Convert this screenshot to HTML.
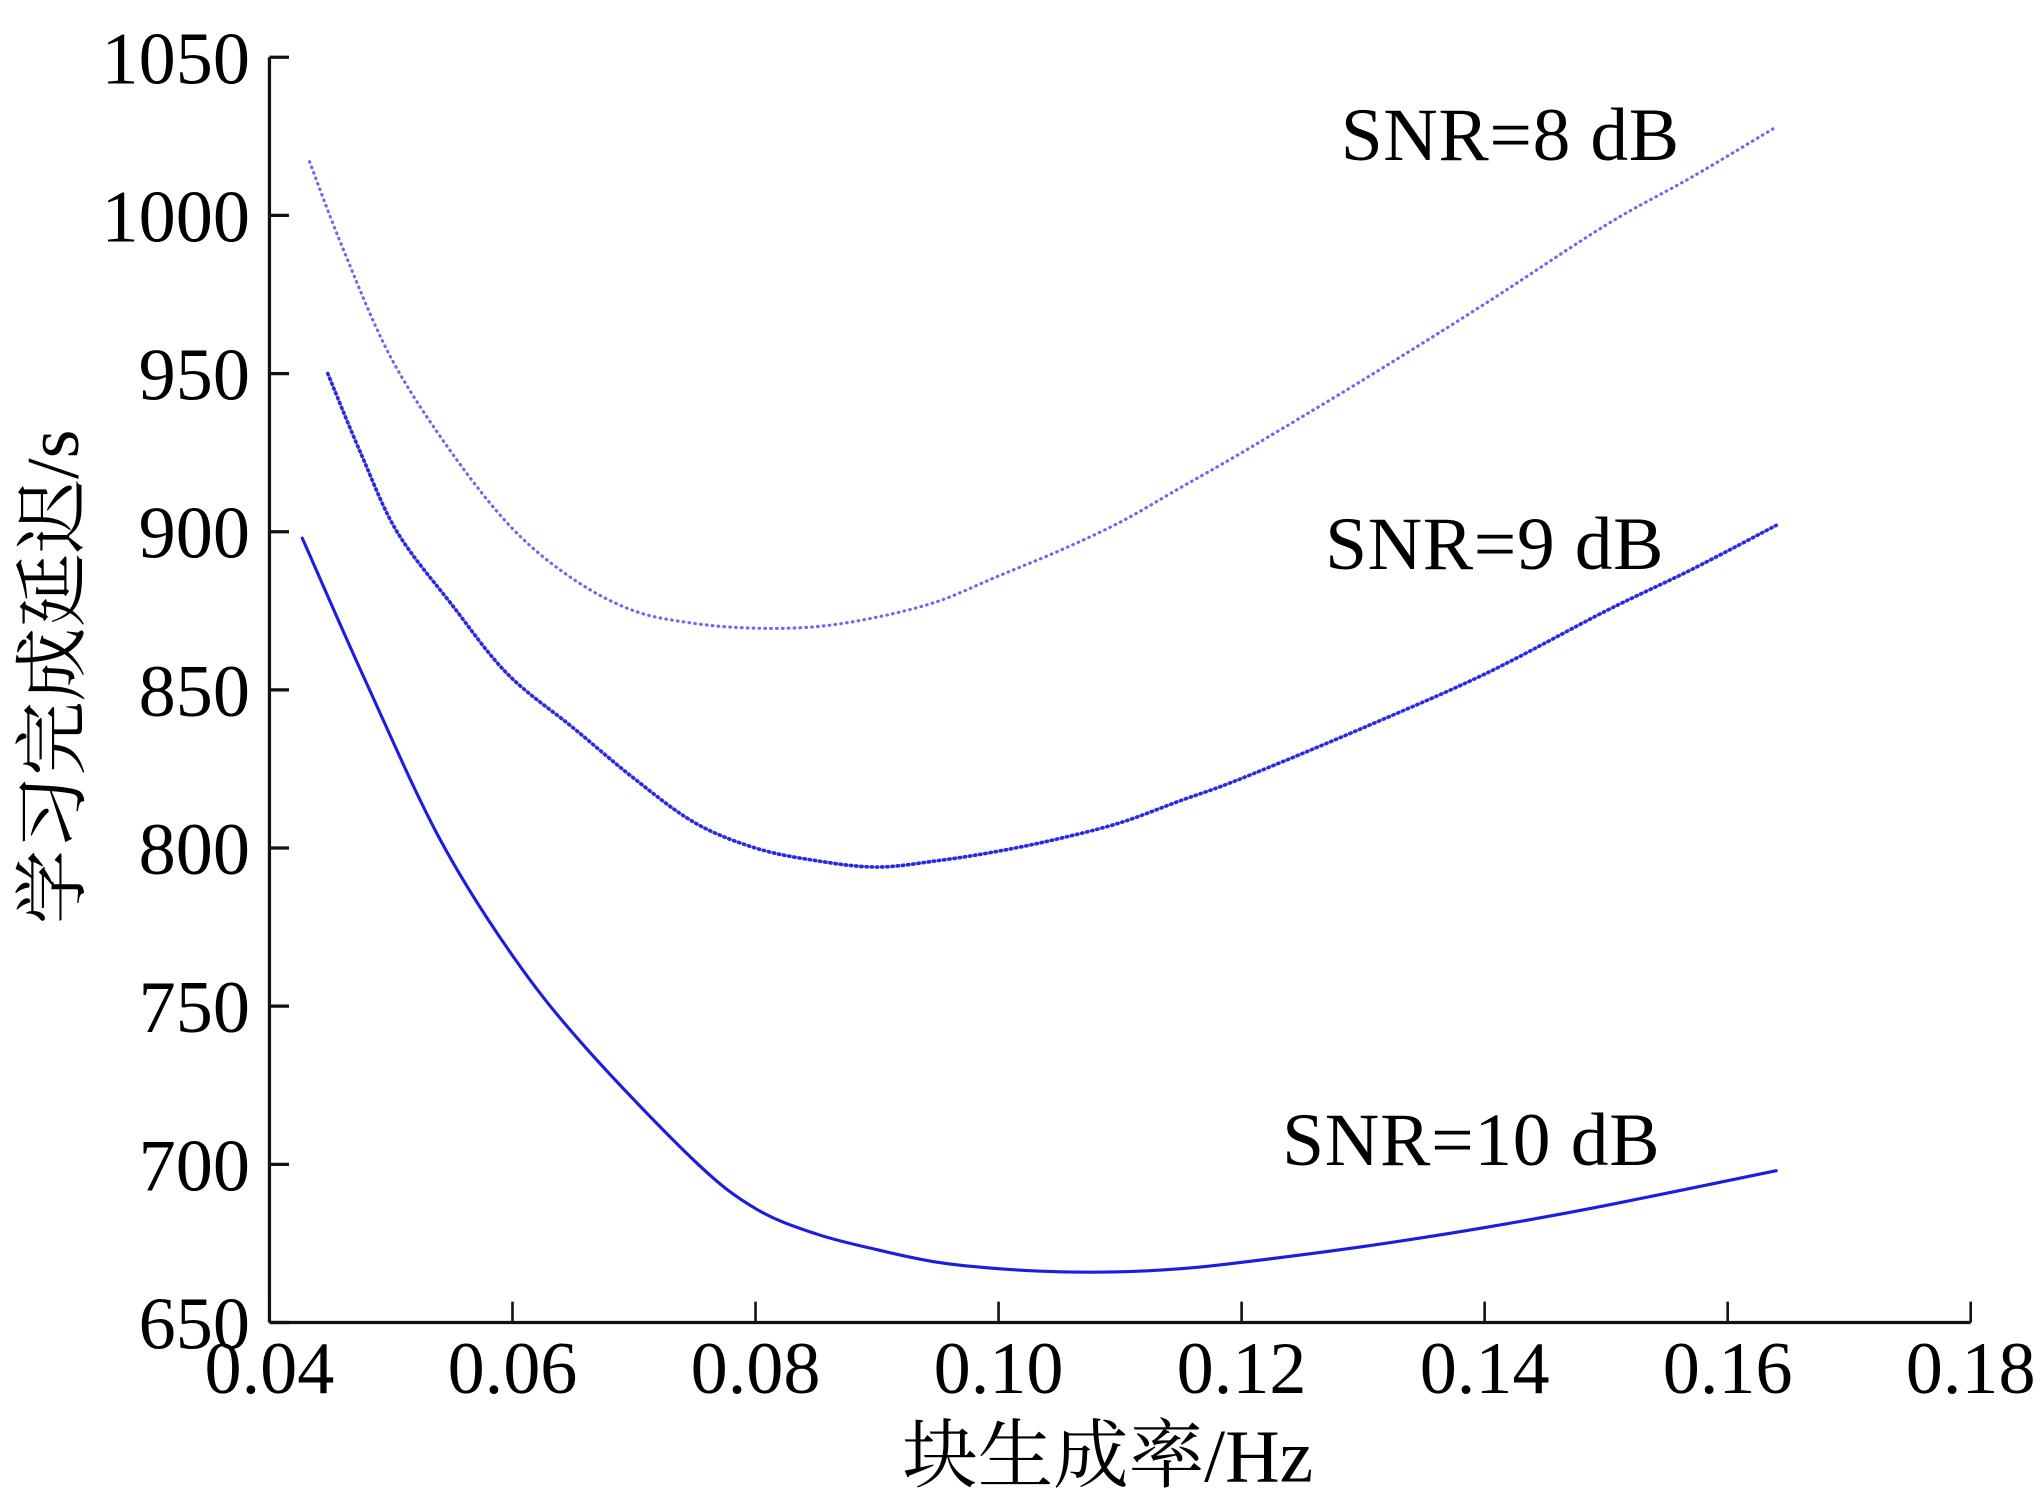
<!DOCTYPE html>
<html><head><meta charset="utf-8"><style>
html,body{margin:0;padding:0;background:#fff;}
svg{display:block;}
text{font-family:"Liberation Serif","Noto Serif CJK SC","Noto Sans CJK SC",serif;fill:#000;}
</style></head><body>
<svg id="chart" width="2041" height="1506" viewBox="0 0 1568 1157" preserveAspectRatio="none" xmlns="http://www.w3.org/2000/svg">
<g id="axes"></g>
<g id="series"></g>
<text x="851" y="1138" font-size="58" text-anchor="middle">块生成率/Hz</text>
<text transform="translate(60,520) rotate(-90)" font-size="57" text-anchor="middle">学习完成延迟/s</text>
<text x="1030" y="123" font-size="58" textLength="260">SNR=8 dB</text>
<text x="1018" y="437" font-size="58" textLength="260">SNR=9 dB</text>
<text x="985" y="895" font-size="58" textLength="290">SNR=10 dB</text>
</svg>
<script>
const xTicks=[0.04,0.06,0.08,0.10,0.12,0.14,0.16,0.18];
const xTickLabels=["0.04","0.06","0.08","0.10","0.12","0.14","0.16","0.18"];
const yTicks=[650,700,750,800,850,900,950,1000,1050];
const snr8X=[0.0433,0.046,0.050,0.055,0.060,0.065,0.070,0.075,0.080,0.085,0.090,0.095,0.100,0.105,0.110,0.115,0.120,0.130,0.140,0.150,0.157,0.164];
const snr8Y=[1017,990,955,925,901,885,875,871,869.5,870,873,878,886,894,903,914,925,948,972,997,1012,1028];
const snr9X=[0.0448,0.0475,0.0505,0.055,0.0596,0.065,0.070,0.075,0.080,0.085,0.090,0.095,0.100,0.105,0.110,0.115,0.120,0.130,0.140,0.150,0.157,0.164];
const snr9Y=[950,925,900,877,855,838,822,808,800,796,794,796,799,803,808,815,822,838,855,875,888,902];
const snr10X=[0.0427,0.048,0.054,0.060,0.066,0.075,0.080,0.085,0.090,0.095,0.100,0.105,0.110,0.115,0.120,0.130,0.140,0.150,0.164];
const snr10Y=[898,852,803,766,737,701,686,678,673,669,667,666,666,667,669,674,680,687,698];

const NS="http://www.w3.org/2000/svg";
const X0=207,X1=1514,Y0=1016,Y1=44;
function sx(v){return X0+(v-0.04)/(0.18-0.04)*(X1-X0);}
function sy(v){return Y0-(v-650)/(1050-650)*(Y0-Y1);}
function mk(tag,attrs,parent){const e=document.createElementNS(NS,tag);for(const k in attrs)e.setAttribute(k,attrs[k]);parent.appendChild(e);return e;}
const axes=document.getElementById('axes');
let l=mk('line',{x1:X0,y1:Y1,x2:X0,y2:Y0,stroke:'#111','stroke-width':2.5},axes);


l=mk('line',{x1:X0,y1:Y0,x2:X1,y2:Y0,stroke:'#111','stroke-width':2.5},axes);


yTicks.forEach(v=>{
  const t=mk('line',{x1:X0,y1:sy(v),x2:X0+15,y2:sy(v),stroke:'#111','stroke-width':2.5},axes);
  
  
  const s=String(v);
  const tx=mk('text',{x:192,y:sy(v)+20,'font-size':57,'text-anchor':'end',textLength:s.length*28.5},axes);
  tx.textContent=s;
  
  
});
xTicks.forEach((v,i)=>{
  const t=mk('line',{x1:sx(v),y1:Y0,x2:sx(v),y2:Y0-16,stroke:'#111','stroke-width':2},axes);
  
  
  const tx=mk('text',{x:sx(v),y:1070,'font-size':57,'text-anchor':'middle'},axes);
  tx.textContent=xTickLabels[i];
  
  
});
const series=document.getElementById('series');
function smoothPath(P){
  let d='M'+P[0][0].toFixed(1)+','+P[0][1].toFixed(1);
  for(let i=0;i<P.length-1;i++){
    const p0=P[i-1]||P[i],p1=P[i],p2=P[i+1],p3=P[i+2]||P[i+1];
    const c1x=p1[0]+(p2[0]-p0[0])/6,c1y=p1[1]+(p2[1]-p0[1])/6;
    const c2x=p2[0]-(p3[0]-p1[0])/6,c2y=p2[1]-(p3[1]-p1[1])/6;
    d+=' C'+c1x.toFixed(1)+','+c1y.toFixed(1)+' '+c2x.toFixed(1)+','+c2y.toFixed(1)+' '+p2[0].toFixed(1)+','+p2[1].toFixed(1);
  }
  return d;
}
function draw(xs,ys,style,name){
  const P=xs.map((x,i)=>[sx(x),sy(ys[i])]);
  const p=mk('path',Object.assign({d:smoothPath(P),fill:'none','stroke-linecap':'round','stroke-linejoin':'round'},style),series);
  
  
}
draw(snr8X,snr8Y,{stroke:'#6a6af0','stroke-width':2.4,'stroke-dasharray':'0.5 4'},'line-snr-8');
draw(snr9X,snr9Y,{stroke:'#2a2ae6','stroke-width':2.8,'stroke-dasharray':'1 3'},'line-snr-9');
draw(snr10X,snr10Y,{stroke:'#1d1de0','stroke-width':2.4},'line-snr-10');
</script>
</body></html>
